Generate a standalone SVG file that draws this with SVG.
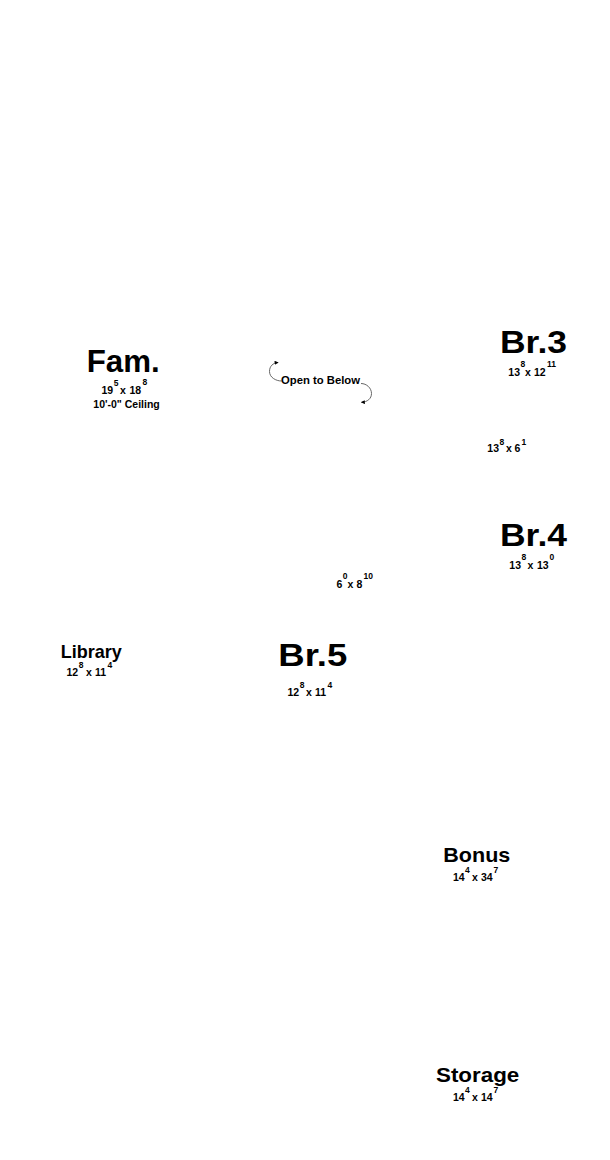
<svg xmlns="http://www.w3.org/2000/svg" width="610" height="1160" viewBox="0 0 610 1160">
<defs>
<style>
text{font-family:"Liberation Sans",Arial,sans-serif;font-weight:bold;fill:#000}
.big{font-size:31px}
.mid{font-size:19px}
.m2{font-size:21px}
.d{font-size:10.5px}
.s{font-size:8.5px}
.c{font-size:10.5px}
.arc{fill:none;stroke:#555;stroke-width:0.9}
</style>
<marker id="ah" viewBox="0 0 6 6" refX="5" refY="3" markerWidth="4.5" markerHeight="4" orient="auto" markerUnits="userSpaceOnUse">
<path d="M0,0 L6,3 L0,6 z" fill="#000"/>
</marker>
</defs>
<rect width="610" height="1160" fill="#fff"/>

<g id="connectors">
<path class="arc" d="M281.5,381 C276,381 269.5,377.5 269.5,371.5 C269.5,366 273,363 278,362.5" marker-end="url(#ah)"/>
<path class="arc" d="M361,383.5 C366.5,383.5 371.5,388 371.5,393.5 C371.5,398.5 367.5,402 361.5,402.3" marker-end="url(#ah)"/>
</g>

<g id="fam">
<text class="big" x="86.7" y="371.7" textLength="73" lengthAdjust="spacingAndGlyphs">Fam.</text>
<text class="d" x="101.5" y="394">19</text>
<text class="s" x="113.8" y="385.5">5</text>
<text class="d" x="120" y="394">x</text>
<text class="d" x="129.5" y="394">18</text>
<text class="s" x="142.5" y="384.5">8</text>
<text class="c" x="93.3" y="408.3">10'-0" Ceiling</text>
</g>

<g id="open-to-below">
<text class="c" x="281" y="383.5" textLength="79" lengthAdjust="spacingAndGlyphs">Open to Below</text>
</g>

<g id="br3">
<text class="big" x="500" y="353.3" textLength="67" lengthAdjust="spacingAndGlyphs">Br.3</text>
<text class="d" x="508.3" y="375.5">13</text>
<text class="s" x="520.5" y="367">8</text>
<text class="d" x="525" y="375.5">x</text>
<text class="d" x="534" y="375.5">12</text>
<text class="s" x="547" y="366.5">11</text>
</g>

<g id="br3-closet">
<text class="d" x="487.3" y="451.7">13</text>
<text class="s" x="499.5" y="444.5">8</text>
<text class="d" x="506" y="451.7">x</text>
<text class="d" x="514.5" y="451.7">6</text>
<text class="s" x="521.5" y="444.5">1</text>
</g>

<g id="br4">
<text class="big" x="500" y="546" textLength="67" lengthAdjust="spacingAndGlyphs">Br.4</text>
<text class="d" x="509.3" y="569.3">13</text>
<text class="s" x="521.5" y="560">8</text>
<text class="d" x="527.5" y="569.3">x</text>
<text class="d" x="537" y="569.3">13</text>
<text class="s" x="549.5" y="560">0</text>
</g>

<g id="bath">
<text class="d" x="336.5" y="587.7">6</text>
<text class="s" x="342.8" y="578.5">0</text>
<text class="d" x="347.5" y="587.7">x</text>
<text class="d" x="356.5" y="587.7">8</text>
<text class="s" x="363.5" y="578.5">10</text>
</g>

<g id="library">
<text class="mid" x="60.7" y="658.3" textLength="61" lengthAdjust="spacingAndGlyphs">Library</text>
<text class="d" x="66.5" y="675.7">12</text>
<text class="s" x="78.7" y="668">8</text>
<text class="d" x="86" y="675.7">x</text>
<text class="d" x="95" y="675.7">11</text>
<text class="s" x="107.5" y="668">4</text>
</g>

<g id="br5">
<text class="big" x="278.3" y="665.5" textLength="69" lengthAdjust="spacingAndGlyphs">Br.5</text>
<text class="d" x="287.5" y="696">12</text>
<text class="s" x="299.7" y="688">8</text>
<text class="d" x="306" y="696">x</text>
<text class="d" x="315" y="696">11</text>
<text class="s" x="327.5" y="687.5">4</text>
</g>

<g id="bonus">
<text class="m2" x="443.3" y="861.7" textLength="67" lengthAdjust="spacingAndGlyphs">Bonus</text>
<text class="d" x="453" y="880.5">14</text>
<text class="s" x="465" y="873">4</text>
<text class="d" x="472" y="880.5">x</text>
<text class="d" x="481" y="880.5">34</text>
<text class="s" x="493.5" y="872.5">7</text>
</g>

<g id="storage">
<text class="m2" x="436" y="1081.7" textLength="83.3" lengthAdjust="spacingAndGlyphs">Storage</text>
<text class="d" x="453" y="1100.5">14</text>
<text class="s" x="465" y="1093">4</text>
<text class="d" x="472" y="1100.5">x</text>
<text class="d" x="481" y="1100.5">14</text>
<text class="s" x="493.5" y="1092.5">7</text>
</g>
</svg>
